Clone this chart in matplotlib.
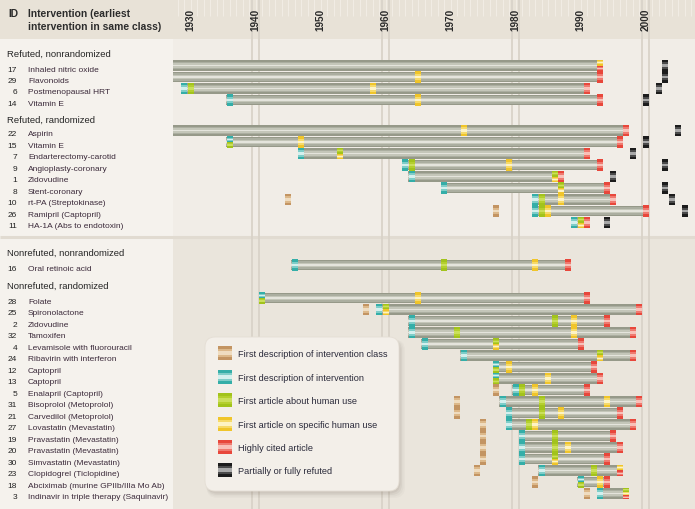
import matplotlib
matplotlib.use("Agg")
import matplotlib.pyplot as plt
from matplotlib.patches import Rectangle, FancyBboxPatch
import numpy as np

N = None

# ---------------- data ----------------
section_titles = ["Refuted, nonrandomized", "Refuted, randomized",
                  "Nonrefuted, nonrandomized", "Nonrefuted, randomized"]

ids = [17, 29, 6, 14,
       22, 15, 7, 9, 1, 8, 10, 26, 11,
       16,
       28, 25, 2, 32, 4, 24, 12, 13, 5, 31, 21, 27, 19, 20, 30, 23, 18, 3]

names = ["Inhaled nitric oxide", "Flavonoids", "Postmenopausal HRT", "Vitamin E",
         "Aspirin", "Vitamin E", "Endarterectomy-carotid", "Angioplasty-coronary",
         "Zidovudine", "Stent-coronary", "rt-PA (Streptokinase)", "Ramipril (Captopril)",
         "HA-1A (Abs to endotoxin)",
         "Oral retinoic acid",
         "Folate", "Spironolactone", "Zidovudine", "Tamoxifen",
         "Levamisole with fluorouracil", "Ribavirin with interferon", "Captopril",
         "Captopril", "Enalapril (Captopril)", "Bisoprolol (Metoprolol)",
         "Carvedilol (Metoprolol)", "Lovastatin (Mevastatin)", "Pravastatin (Mevastatin)",
         "Pravastatin (Mevastatin)", "Simvastatin (Mevastatin)", "Clopidogrel (Ticlopidine)",
         "Abciximab (murine GPIIb/IIIa Mo Ab)", "Indinavir in triple therapy (Saquinavir)"]

section_of = [0] * 4 + [1] * 9 + [2] + [3] * 18

class_year = [N, N, N, N,
              N, N, N, N, N, N, 1945, 1977, N,
              N,
              N, 1957, N, N, N, N, N, N, 1977, 1971, 1971, 1975, 1975, 1975, 1975, 1974, 1983, 1991]
first_desc = [N, N, 1929, 1936,
              N, 1936, 1947, 1963, 1964, 1969, 1983, 1983, 1989,
              1946,
              1941, 1959, 1964, 1964, 1966, 1972, 1977, 1977, 1980, 1978, 1979, 1979, 1981, 1981, 1981, 1984, 1990, 1993]
human_use = [N, N, 1930, N,
             N, 1936, 1953, 1964, 1986, 1987, 1984, 1984, 1990,
             1969,
             1941, 1960, 1986, 1971, 1977, 1993, 1977, 1977, 1981, 1984, 1984, 1982, 1986, 1986, 1986, 1992, 1990, 1997]
specific_use = [1993, 1965, 1958, 1965,
                1972, 1947, 1953, 1979, 1986, 1987, 1987, 1985, 1990,
                1983,
                1965, 1960, 1989, 1989, 1977, 1993, 1979, 1985, 1983, 1994, 1987, 1983, N, 1988, 1986, 1996, 1993, 1997]
cited = [1993, 1993, 1991, 1993,
         1997, 1996, 1991, 1993, 1987, 1994, 1995, 2000, 1991,
         1988,
         1991, 1999, 1994, 1998, 1990, 1998, 1992, 1993, 1991, 1999, 1996, 1998, 1995, 1996, 1994, 1996, 1994, 1997]
refuted = [2003, 2003, 2002, 2000,
           2005, 2000, 1998, 2003, 1995, 2003, 2004, 2006, 1994,
           N,
           N, N, N, N, N, N, N, N, N, N, N, N, N, N, N, N, N, N]

decade_labels = [1930, 1940, 1950, 1960, 1970, 1980, 1990, 2000]
double_lines = [1940, 1960, 1980, 2000]

legend_labels = ["First description of intervention class",
                 "First description of intervention",
                 "First article about human use",
                 "First article on specific human use",
                 "Highly cited article",
                 "Partially or fully refuted"]

# ---------------- style ----------------
KIND_COLORS = {
    "class":    ["#c39462", "#dcb88a", "#efdcc0"],
    "desc":     ["#34aea8", "#7fcdc8", "#d3f0ee"],
    "human":    ["#a2c31c", "#b4cf2e", "#cadf5c"],
    "specific": ["#f0c52a", "#f6da6a", "#fdf3c4"],
    "cited":    ["#e8473b", "#ef7a70", "#f9c0b8"],
    "refuted":  ["#1c1c1c", "#4a4a4a", "#a8a8a8"],
}
KIND_FRACS = [1.0, 0.6, 0.25]
BAR_COLORS = ["#969989", "#abaea0", "#c4c6b9", "#e4e4dc"]
BAR_FRACS = [1.0, 0.74, 0.46, 0.16]
kinds_order = ["class", "desc", "human", "specific", "cited", "refuted"]

plt.rcParams['font.family'] = ['Liberation Sans', 'DejaVu Sans']

W, H = 695, 510
PLOT_LEFT = 173
HEADER_H = 40
SPLIT_Y = 238
X1930 = 190.7
PX_PER_YEAR = 6.5

FS_ROW = 6.0
FS_SEC = 6.8
FS_HEAD = 7.4
FS_LEG = 6.6
FS_YEAR = 7.2

fig = plt.figure(figsize=(W / 100, H / 100), dpi=100)
fig.patch.set_facecolor("#f2eee8")

bg = fig.add_axes([0, 0, 1, 1], zorder=0)
bg.set_xlim(0, W)
bg.set_ylim(H, 0)
bg.axis("off")

# backgrounds
bg.add_patch(Rectangle((0, 0), W, HEADER_H, facecolor="#e8e2d7", lw=0))
bg.add_patch(Rectangle((0, HEADER_H), PLOT_LEFT, H - HEADER_H, facecolor="#f5f2ed", lw=0))
bg.add_patch(Rectangle((PLOT_LEFT, HEADER_H), W - PLOT_LEFT, SPLIT_Y - HEADER_H, facecolor="#f1ede7", lw=0))
bg.add_patch(Rectangle((PLOT_LEFT, SPLIT_Y), W - PLOT_LEFT, H - SPLIT_Y, facecolor="#eae5dc", lw=0))
bg.plot([0, W], [SPLIT_Y, SPLIT_Y], color="#e1dbd1", lw=2.2, solid_capstyle="butt")

# plot axes (years on x, pixel-rows on y)
ax = fig.add_axes([PLOT_LEFT / W, 0, (W - PLOT_LEFT) / W, 1], zorder=1)
ax.patch.set_alpha(0)
x_left = 1930 - (X1930 - PLOT_LEFT) / PX_PER_YEAR
x_right = 1930 + (W - X1930) / PX_PER_YEAR
ax.set_xlim(x_left, x_right)
ax.set_ylim(H, 0)
ax.axis("off")

# header year stripes
ax.vlines(np.arange(1928, 2008), 0, 17, color="#f1ece4", lw=0.8, zorder=0.2)
# double grid lines
for yr in double_lines:
    ax.vlines([yr - 0.55, yr + 0.5], 0, H, color="#d9d3c9", lw=1.3, zorder=0.3)
# year labels
for yr in decade_labels:
    ax.text(yr, 20, str(yr), rotation=90, ha="center", va="center",
            fontsize=FS_YEAR, fontweight="bold", color="#2a2a2a", zorder=5)

# ---------------- row layout ----------------
sec_baseline = [56.5, 123, 256, 288.5]
first_off = [10, 8.5, 10, 10.5]
STEP = 11.5
row_y = []
cnt = [0, 0, 0, 0]
for s in section_of:
    row_y.append(sec_baseline[s] + first_off[s] + cnt[s] * STEP)
    cnt[s] += 1
row_y = np.array(row_y)

# ---------------- labels ----------------
bg.text(8, 17.3, "ID", fontsize=FS_HEAD, fontweight="bold", color="#2b2b2b", va="baseline")
bg.text(28, 17.3, "Intervention (earliest", fontsize=FS_HEAD, fontweight="bold", color="#2b2b2b", va="baseline")
bg.text(28, 29.8, "intervention in same class)", fontsize=FS_HEAD, fontweight="bold", color="#2b2b2b", va="baseline")
for s, t in enumerate(section_titles):
    bg.text(7, sec_baseline[s], t, fontsize=FS_SEC, color="#262626", va="baseline")
for i in range(len(ids)):
    bg.text(17, row_y[i] + 5.0, str(ids[i]), fontsize=FS_ROW, color="#222222", ha="right", va="baseline")
    bg.text(28, row_y[i] + 5.0, names[i], fontsize=FS_ROW, color="#3b2a3a", ha="left", va="baseline")

# ---------------- bars ----------------
BAR_H = 10.8
MARK_H = 11.2
bl, bw, by = [], [], []
for i in range(len(ids)):
    start = first_desc[i] - 0.5 if first_desc[i] is not None else x_left
    end = cited[i] + 0.5
    bl.append(start)
    bw.append(end - start)
    by.append(row_y[i])
bl, bw, by = np.array(bl), np.array(bw), np.array(by)
for c, f in zip(BAR_COLORS, BAR_FRACS):
    ax.barh(by, bw, left=bl, height=BAR_H * f, color=c, linewidth=0, zorder=2)

# ---------------- markers ----------------
series = {"class": class_year, "desc": first_desc, "human": human_use,
          "specific": specific_use, "cited": cited, "refuted": refuted}
marks = {k: ([], [], []) for k in kinds_order}  # x, y, h
for i in range(len(ids)):
    cells = {}
    for k in kinds_order:
        v = series[k][i]
        if v is not None:
            cells.setdefault(v, []).append(k)
    for yr, ks in cells.items():
        n = len(ks)
        sub = MARK_H / n
        for j, k in enumerate(ks):
            yc = row_y[i] - MARK_H / 2 + (j + 0.5) * sub
            marks[k][0].append(yr)
            marks[k][1].append(yc)
            marks[k][2].append(sub)
for k in kinds_order:
    xs, ys, hs = (np.array(a, dtype=float) for a in marks[k])
    if len(xs) == 0:
        continue
    for c, f in zip(KIND_COLORS[k], KIND_FRACS):
        ax.barh(ys, 0.95, left=xs - 0.475, height=hs * f, color=c, linewidth=0, zorder=3)

# ---------------- legend ----------------
fg = fig.add_axes([0, 0, 1, 1], zorder=3)
fg.patch.set_alpha(0)
fg.set_xlim(0, W)
fg.set_ylim(H, 0)
fg.axis("off")
LX, LY, LW, LH = 205, 338, 194, 154
for d, a in [(6, 0.03), (4.5, 0.04), (3, 0.06), (1.5, 0.07)]:
    fg.add_patch(FancyBboxPatch((LX + 1.5, LY + 2.5), LW + d - 1.5, LH + d - 1.5,
                                boxstyle="round,pad=0,rounding_size=11",
                                facecolor="#5a5040", alpha=a, lw=0))
fg.add_patch(FancyBboxPatch((LX, LY), LW, LH, boxstyle="round,pad=0,rounding_size=10",
                            facecolor="#f3efe9", edgecolor="#e4ded4", lw=0.6))
leg_y = [354, 378, 401, 425, 448, 471]
for k, lab, yy in zip(kinds_order, legend_labels, leg_y):
    cols = KIND_COLORS[k]
    for c, f in zip(cols, KIND_FRACS):
        hh = 14 * f
        fg.add_patch(Rectangle((218, yy - hh / 2), 14, hh, facecolor=c, lw=0))
    fg.text(238, yy + 3.2, lab, fontsize=FS_LEG, color="#2a2a3a", va="baseline")

fig.savefig("out.png", dpi=100)
